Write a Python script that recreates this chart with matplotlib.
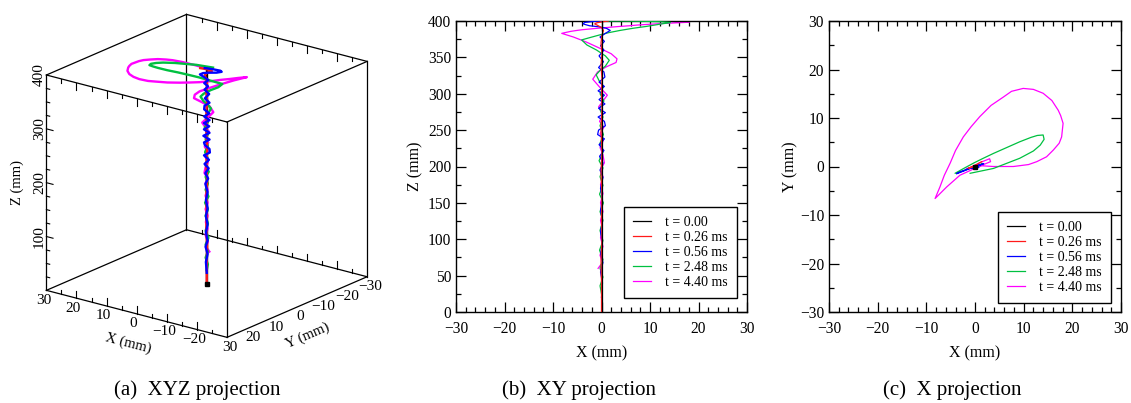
import numpy as np
import matplotlib
matplotlib.use('Agg')
import matplotlib.pyplot as plt
from matplotlib.ticker import MultipleLocator

plt.rcParams['font.family'] = ['Liberation Serif', 'DejaVu Serif']
plt.rcParams['axes.unicode_minus'] = True

# ---------------- data (mm) ----------------
labels = ['t = 0.00', 't = 0.26 ms', 't = 0.56 ms', 't = 2.48 ms', 't = 4.40 ms']
colors = ['#000000', '#ff1a1a', '#0000ff', '#00c040', '#ff00ff']

blk_x = [0.0, 0.0]
blk_y = [0.0, 0.0]
blk_z = [0.0, 400.0]

red_x = [1.4, 0.3, -1.0, -1.4, -0.8, 0.0, 0.4, 0.1, -0.1, 0.1,
         -0.1, 0.1, 0.0, 0.1, -0.1, 0.1, -0.1, 0.1, 0.0, 0.1,
         -0.1, 0.0, 0.0, 0.0]
red_y = [1.0, 0.4, -0.2, -0.4, -0.2, 0.1, 0.3, 0.1, 0.0, 0.05,
         -0.05, 0.05, 0.0, 0.05, -0.05, 0.05, -0.05, 0.05, 0.0, 0.05,
         -0.05, 0.0, 0.0, 0.0]
red_z = [400, 399, 397.5, 396, 394, 391, 387, 380, 370, 355,
         340, 320, 300, 280, 250, 220, 190, 160, 130, 100,
         70, 40, 10, 0]

blu_x = [0.5, -1.5, -3.5, -3.8, -2.5, -0.5, 1.0, 1.8, 0.8, -0.3,
         0.6, -0.2, 0.5, -0.5, 0.4, -0.6, 0.5, 0.7, -0.5, 0.6,
         -0.7, 0.6, -0.5, 0.7, -0.6, 0.8, -0.7, 0.6, 0.8, -0.6,
         -0.8, 0.6, -0.5, 0.5, -0.4, 0.3, -0.3, 0.3, -0.2, 0.2,
         -0.2, 0.2, -0.2, 0.2, -0.2, 0.3, -0.2, 0.2, 0.0]
blu_y = [0.2, -0.5, -1.3, -1.5, -1.0, -0.2, 0.3, 0.6, 0.2, -0.3,
         0.3, -0.3, 0.3, -0.4, 0.3, -0.4, 0.3, 0.2, -0.4, 0.3,
         -0.3, 0.4, -0.4, 0.3, -0.4, 0.4, -0.3, 0.4, -0.2, -0.4,
         -0.3, 0.4, -0.3, 0.3, -0.3, 0.2, -0.2, 0.2, -0.1, 0.1,
         -0.1, 0.1, -0.1, 0.1, -0.1, 0.1, -0.1, 0.1, 0.0]
blu_z = [400, 399.5, 398, 396, 393.5, 392, 390, 387, 383, 378,
         372, 366, 360, 352, 344, 336, 330, 323, 316, 310,
         304, 298, 292, 286, 280, 274, 268, 262, 256, 250,
         244, 238, 230, 222, 214, 205, 195, 185, 170, 155,
         140, 125, 110, 95, 80, 68, 55, 40, 20]

grn_x = [-1.0, 3.8, 9.2, 12.0, 13.4, 14.2, 14.0, 12.8, 11.5, 9.2,
         6.5, 3.8, 1.5, -0.3, -2.5, -4.1, -3.0, -1.0, 0.8, 1.6,
         0.8, -0.3, -1.1, -0.5, 0.4, -0.3, 0.5, -0.4, 0.3, -0.3,
         0.4, -0.3, 0.3, -0.5, 0.3, -0.3, 0.3, -0.4, 0.4, -0.3,
         0.3, -0.3, 0.3, -0.4, 0.3, -0.3, 0.3, -0.3, 0.0]
grn_y = [-1.4, -0.4, 1.7, 3.2, 4.4, 5.6, 6.5, 6.4, 6.0, 5.1,
         3.9, 2.7, 1.6, 0.7, -0.5, -1.4, -1.1, -0.4, 0.3, 0.6,
         0.3, -0.1, -0.4, -0.2, 0.2, -0.1, 0.2, -0.2, 0.1, -0.1,
         0.2, -0.1, 0.1, -0.2, 0.1, -0.1, 0.1, -0.2, 0.2, -0.1,
         0.1, -0.1, 0.1, -0.2, 0.1, -0.1, 0.1, -0.1, 0.0]
grn_z = [400, 400, 399.5, 399, 398.5, 398, 397.5, 396.5, 395, 392.5,
         390, 387, 384, 381, 377, 374, 367, 360, 352, 346,
         338, 332, 326, 318, 310, 300, 290, 280, 268, 256,
         244, 232, 220, 208, 198, 186, 174, 162, 150, 138,
         126, 112, 98, 85, 72, 60, 48, 36, 25]

mag_x = [0.5, 3.8, 7.9, 11.0, 12.7, 14.7, 16.1, 17.3, 17.8, 18.1,
         17.6, 17.1, 15.8, 14.0, 12.0, 9.9, 7.5, 5.8, 3.3, 1.0,
         -0.8, -2.4, -4.0, -5.1, -6.3, -7.2, -8.2, -5.8, -3.1, -0.5,
         2.0, 3.2, 3.0, 1.0, -0.8, -1.8, -0.5, 1.2, 0.3, -0.6,
         0.3, -0.4, 0.5, -0.3, 0.4, -0.3, 0.3, 0.6, -0.2, 0.3,
         -0.2, 0.3, -0.2, 0.3, -0.2, 0.2, -0.2, 0.3, -0.3, 0.2,
         -0.7]
mag_y = [0.2, 0.0, 0.0, 0.4, 1.0, 2.0, 3.4, 4.8, 6.1, 8.9,
         10.5, 11.6, 13.6, 15.1, 15.9, 16.1, 15.5, 14.3, 12.6, 10.3,
         8.2, 6.1, 3.3, 0.7, -1.8, -4.2, -6.6, -4.2, -1.8, -0.6,
         0.5, 1.0, 1.6, 0.8, -0.2, -0.5, 0.0, 0.4, 0.1, -0.2,
         0.1, -0.1, 0.2, -0.1, 0.1, -0.1, 0.1, 0.2, -0.1, 0.1,
         -0.1, 0.1, -0.1, 0.1, -0.1, 0.1, -0.1, 0.1, -0.1, 0.1,
         -0.2]
mag_z = [400, 400, 399.8, 399.6, 399.5, 399.3, 399.1, 398.9, 398.7, 398.4,
         398.2, 398, 397.6, 397, 396.3, 395.5, 394.5, 393.5, 392.3, 391,
         390, 389, 388, 387, 385.8, 384.5, 383, 378, 371, 363,
         355, 348, 343, 337, 330, 320, 310, 298, 290, 282,
         272, 262, 254, 245, 236, 226, 216, 205, 196, 186,
         175, 163, 150, 138, 126, 114, 102, 90, 78, 68,
         60]

xy_lim = (-30, 30)
z_lim = (0, 400)
x_ticks_3d = [30, 20, 10, 0, -10, -20]
y_ticks_3d = [30, 20, 10, 0, -10, -20, -30]
z_ticks_3d = [100, 200, 300, 400]

series = [(blk_x, blk_y, blk_z), (red_x, red_y, red_z), (blu_x, blu_y, blu_z),
          (grn_x, grn_y, grn_z), (mag_x, mag_y, mag_z)]
zorders = [6, 5, 4, 3, 2]

# ---------------- figure ----------------
W, H = 1131, 403
fig = plt.figure(figsize=(W / 100, H / 100), dpi=100)


def px_rect(l, t, r, b):
    return [l / W, 1 - b / H, (r - l) / W, (b - t) / H]


def minus(v):
    return ('%g' % v).replace('-', '\u2212')


TFS = 11.2
LFS = 11.5


def style2d(ax):
    ax.tick_params(which='both', direction='in', top=True, right=True,
                   labelsize=TFS, width=0.9, pad=3.5)
    ax.tick_params(axis='x', which='both', pad=6.5)
    ax.tick_params(which='major', length=7.5)
    ax.tick_params(which='minor', length=3.8)
    for s in ax.spines.values():
        s.set_linewidth(1.0)


leg_kw = dict(loc='lower right', fontsize=10, frameon=True, fancybox=False,
              edgecolor='black', framealpha=1, borderaxespad=0,
              handlelength=1.35, handletextpad=1.0, labelspacing=0.15,
              borderpad=0.65)

# ---- panel (b): X vs Z ----
axb = fig.add_axes(px_rect(456, 21, 747, 312))
lines_b = []
for (x, y, z), c, lab, zo in zip(series, colors, labels, zorders):
    ln, = axb.plot(x, z, color=c, lw=0.9, label=lab, zorder=zo)
    lines_b.append(ln)
axb.set_xlim(*xy_lim)
axb.set_ylim(*z_lim)
axb.xaxis.set_major_locator(MultipleLocator(10))
axb.xaxis.set_minor_locator(MultipleLocator(2))
axb.yaxis.set_major_locator(MultipleLocator(50))
axb.yaxis.set_minor_locator(MultipleLocator(25))
style2d(axb)
axb.set_xlabel('X (mm)', fontsize=LFS, labelpad=6)
axb.set_ylabel('Z (mm)', fontsize=LFS, labelpad=3)
lg = axb.legend(handles=lines_b, bbox_to_anchor=(0.9656, 0.048), **leg_kw)
lg.get_frame().set_linewidth(1.0)

# ---- panel (c): X vs Y ----
axc = fig.add_axes(px_rect(829, 21, 1121, 312))
for (x, y, z), c, lab, zo in zip(series, colors, labels, zorders):
    mk = 's' if c == '#000000' else None
    axc.plot(x, y, color=c, lw=0.9, zorder=zo, marker=mk, markersize=3,
             markevery=[0])
axc.set_xlim(*xy_lim)
axc.set_ylim(*xy_lim)
axc.xaxis.set_major_locator(MultipleLocator(10))
axc.xaxis.set_minor_locator(MultipleLocator(2))
axc.yaxis.set_major_locator(MultipleLocator(10))
axc.yaxis.set_minor_locator(MultipleLocator(5))
style2d(axc)
axc.set_xlabel('X (mm)', fontsize=LFS, labelpad=6)
axc.set_ylabel('Y (mm)', fontsize=LFS, labelpad=1)
lg2 = axc.legend(handles=lines_b, bbox_to_anchor=(0.9658, 0.031), **leg_kw)
lg2.get_frame().set_linewidth(1.0)

# ---- panel (a): 3D ----
ax3 = fig.add_axes([0.0, 2 / H, 400 / W, 400 / H], projection='3d')
ax3.set_proj_type('ortho')
ax3.view_init(elev=19.6, azim=127.8)
ax3.set_xlim(*xy_lim)
ax3.set_ylim(*xy_lim)
ax3.set_zlim(*z_lim)
ax3.set_box_aspect((1, 1, 1))
ax3.set_axis_off()
ax3.set_facecolor('none')
ax3.computed_zorder = False

x0l, x1l = xy_lim
z0l, z1l = z_lim
# box edges
for yy in (x0l, x1l):
    for zz in (z0l, z1l):
        ax3.plot([x0l, x1l], [yy, yy], [zz, zz], color='k', lw=0.9, clip_on=False, zorder=1)
for xx in (x0l, x1l):
    for zz in (z0l, z1l):
        ax3.plot([xx, xx], [x0l, x1l], [zz, zz], color='k', lw=0.9, clip_on=False, zorder=1)
for xx in (x0l, x1l):
    for yy in (x0l, x1l):
        ax3.plot([xx, xx], [yy, yy], [z0l, z1l], color='k', lw=0.9, clip_on=False, zorder=1)

# tick marks along X edges (vertical ticks)
for v in range(-25, 30, 5):
    L = 14 if v % 10 == 0 else 7
    for yy in (x0l, x1l):
        ax3.plot([v, v], [yy, yy], [z0l, z0l + L], color='k', lw=0.8, clip_on=False, zorder=1)
        ax3.plot([v, v], [yy, yy], [z1l, z1l - L], color='k', lw=0.8, clip_on=False, zorder=1)
# tick marks along Z (left edge)
for v in range(25, 400, 25):
    L = 2.2 if v % 100 == 0 else 1.1
    ax3.plot([x1l, x1l - L], [x1l, x1l], [v, v], color='k', lw=0.8, clip_on=False, zorder=1)

# curves (black under the others here)
zorder3 = [2, 5, 6, 4, 3]
for (x, y, z), c, zo in zip(series, colors, zorder3):
    ax3.plot(x, y, z, color=c, lw=1.7, zorder=zo, clip_on=False)
ax3.plot(blk_x[:1], blk_y[:1], blk_z[:1], color='k', marker='s', markersize=2.5,
         ls='none', zorder=8, clip_on=False)

# fit the 3D axes so that the cube lands where it is in the reference
corners = [(30, 30, 0), (30, 30, 400), (30, -30, 400), (30, -30, 0),
           (-30, -30, 0), (-30, -30, 400), (-30, 30, 0), (-30, 30, 400)]
targets = [(46, 290), (48, 76), (185, 12), (185, 229),
           (368, 276), (368, 62), (227, 337), (227, 125)]


def proj_disp(p):
    M = ax3.get_proj()
    v = M @ np.array([p[0], p[1], p[2], 1.0])
    return ax3.transData.transform((v[0] / v[3], v[1] / v[3]))


for _ in range(2):
    fig.canvas.draw()
    pos = ax3.get_position()
    px0, py0, S = pos.x0 * W, pos.y0 * H, pos.width * W
    A, bv = [], []
    for (cx, cy, cz), (tx, ty) in zip(corners, targets):
        d = proj_disp((cx, cy, cz))
        fx = (d[0] - px0) / S
        fy = (d[1] - py0) / S
        A.append([fx, 1, 0]); bv.append(tx)
        A.append([fy, 0, 1]); bv.append(H - ty)
    S2, X0, Y0 = np.linalg.lstsq(np.array(A, float), np.array(bv, float), rcond=None)[0]
    ax3.set_position([X0 / W, Y0 / H, S2 / W, S2 / H])
fig.canvas.draw()


def label3d(p, s, direction=None, fs=11):
    d = proj_disp(p)
    ang = 0.0
    if direction is not None:
        d2 = proj_disp((p[0] + direction[0], p[1] + direction[1], p[2] + direction[2]))
        ang = np.degrees(np.arctan2(d2[1] - d[1], d2[0] - d[0]))
        ang = (ang + 180) % 180
        if ang > 90:
            ang -= 180
    fig.text(d[0] / W, d[1] / H, s, ha='center', va='center', fontsize=fs,
             rotation=ang, rotation_mode='anchor')


for v in x_ticks_3d:
    label3d((v, 31.3, -16), minus(v))
for v in y_ticks_3d:
    label3d((-31, v, -17), minus(v))
for v in z_ticks_3d:
    label3d((31.45, 31.1, v), minus(v), direction=(0, 0, 1))
label3d((2.8, 30, -58), 'X (mm)', direction=(1, 0, 0), fs=10.5)
label3d((-30, -4.5, -62), 'Y (mm)', direction=(0, 1, 0), fs=10.5)
label3d((36.0, 34.6, 200), 'Z (mm)', direction=(0, 0, 1), fs=10.5)

# captions
cap_y = 1 - 390 / H
fig.text(197 / W, cap_y, '(a)  XYZ projection', ha='center', va='center', fontsize=15)
fig.text(579 / W, cap_y, '(b)  XY projection', ha='center', va='center', fontsize=15)
fig.text(952 / W, cap_y, '(c)  X projection', ha='center', va='center', fontsize=15)

fig.savefig('out.png', dpi=100)
